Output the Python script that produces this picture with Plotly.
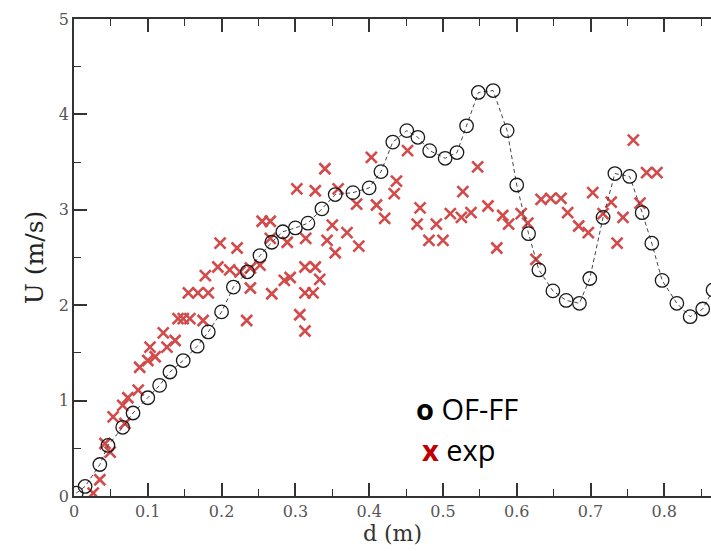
import plotly.graph_objects as go

# OF-FF simulation profile
of_d = [0.003, 0.015, 0.035, 0.046, 0.066, 0.080, 0.100, 0.116, 0.130, 0.148,
        0.167, 0.182, 0.200, 0.216, 0.235, 0.252, 0.268, 0.283, 0.300, 0.317,
        0.336, 0.354, 0.378, 0.400, 0.416, 0.432, 0.451, 0.466, 0.482, 0.503,
        0.519, 0.532, 0.548, 0.568, 0.587, 0.600, 0.616, 0.630, 0.649, 0.667,
        0.685, 0.699, 0.717, 0.733, 0.753, 0.770, 0.783, 0.797, 0.817, 0.835,
        0.852, 0.866]
of_u = [0.03, 0.10, 0.33, 0.53, 0.72, 0.87, 1.03, 1.16, 1.30, 1.42,
        1.57, 1.72, 1.93, 2.19, 2.35, 2.52, 2.66, 2.77, 2.81, 2.86,
        3.01, 3.16, 3.18, 3.23, 3.40, 3.71, 3.83, 3.76, 3.62, 3.54,
        3.60, 3.88, 4.23, 4.25, 3.83, 3.26, 2.75, 2.37, 2.15, 2.05,
        2.02, 2.28, 2.92, 3.38, 3.35, 2.97, 2.65, 2.26, 2.02, 1.88,
        1.96, 2.16]

# Experimental measurements
exp_d = [0.026, 0.035, 0.042, 0.049, 0.053, 0.066, 0.069, 0.073, 0.087, 0.089,
         0.100, 0.103, 0.110, 0.121, 0.126, 0.137, 0.141, 0.148, 0.157, 0.175,
         0.155, 0.168, 0.182, 0.178, 0.195, 0.211, 0.225, 0.239, 0.252, 0.198,
         0.221, 0.239, 0.234, 0.255, 0.266, 0.266, 0.289, 0.268, 0.285, 0.293,
         0.313, 0.327, 0.313, 0.324, 0.333, 0.306, 0.313, 0.302, 0.327, 0.340,
         0.358, 0.350, 0.314, 0.343, 0.354, 0.370, 0.386, 0.383, 0.403, 0.410,
         0.421, 0.437, 0.434, 0.452, 0.469, 0.465, 0.491, 0.481, 0.500, 0.510,
         0.527, 0.525, 0.538, 0.547, 0.561, 0.573, 0.581, 0.589, 0.606, 0.615,
         0.626, 0.633, 0.646, 0.660, 0.669, 0.684, 0.697, 0.703, 0.717, 0.728,
         0.736, 0.744, 0.758, 0.767, 0.776, 0.790]
exp_u = [0.03, 0.17, 0.55, 0.46, 0.83, 0.95, 0.76, 1.03, 1.11, 1.35,
         1.42, 1.56, 1.46, 1.71, 1.56, 1.63, 1.86, 1.86, 1.86, 1.84,
         2.13, 2.13, 2.13, 2.31, 2.40, 2.37, 2.35, 2.39, 2.42, 2.65,
         2.60, 2.18, 1.84, 2.88, 2.88, 2.70, 2.66, 2.12, 2.26, 2.29,
         2.40, 2.40, 2.13, 2.13, 2.27, 1.90, 1.73, 3.22, 3.20, 3.43,
         3.22, 2.84, 2.70, 2.68, 2.55, 2.76, 2.62, 3.06, 3.55, 3.05,
         2.91, 3.30, 3.17, 3.62, 3.02, 2.85, 2.85, 2.68, 2.68, 2.96,
         3.19, 2.92, 2.97, 3.45, 3.04, 2.60, 2.94, 2.85, 2.96, 2.86,
         2.48, 3.11, 3.12, 3.12, 2.97, 2.83, 2.76, 3.18, 2.96, 3.08,
         2.65, 2.92, 3.73, 3.07, 3.39, 3.39]

x_ticks = [0, 0.1, 0.2, 0.3, 0.4, 0.5, 0.6, 0.7, 0.8]
x_tick_text = ["0", "0.1", "0.2", "0.3", "0.4", "0.5", "0.6", "0.7", "0.8"]
y_ticks = [0, 1, 2, 3, 4, 5]

RED = "#cc2b2b"
AXIS = "#333333"
SERIF = "DejaVu Serif"

L, T, B = 74, 19, 55
W, H = 711, 551
pw, ph = W - L, H - T - B
x_range = [0, pw / 737.9]

fig = go.Figure()

fig.add_trace(go.Scatter(
    x=exp_d, y=exp_u, mode="markers", name="exp",
    marker=dict(symbol="x-thin-open", size=11, color=RED,
                line=dict(color=RED, width=2.6)),
    opacity=0.85,
))

fig.add_trace(go.Scatter(
    x=of_d, y=of_u, mode="lines+markers", name="OF-FF",
    line=dict(color="#444444", width=1, dash="4px,3px"),
    marker=dict(symbol="circle-open", size=13.5, color="#1a1a1a",
                line=dict(color="#1a1a1a", width=1.3)),
))


def px(xp):
    return (xp - L) / pw


def py(yp):
    return (H - B - yp) / ph


fig.add_annotation(x=px(414), y=py(408), xref="paper", yref="paper",
                   xanchor="left", yanchor="middle", showarrow=False,
                   text="<b>o</b> OF-FF",
                   font=dict(family="Open Sans", size=29, color="#000000"))
fig.add_annotation(x=px(420), y=py(449), xref="paper", yref="paper",
                   xanchor="left", yanchor="middle", showarrow=False,
                   text="<b><span style='color:#c00000'>x</span></b> exp",
                   font=dict(family="Open Sans", size=29, color="#000000"))

fig.update_layout(
    width=W, height=H,
    margin=dict(l=L, r=0, t=T, b=B, pad=0),
    paper_bgcolor="white", plot_bgcolor="white",
    showlegend=False,
    xaxis=dict(
        range=x_range, tickmode="array", tickvals=x_ticks,
        ticktext=x_tick_text, ticks="inside", ticklen=13, tickwidth=1.5,
        tickcolor=AXIS, showline=True, linecolor=AXIS, linewidth=1.8,
        mirror="allticks", showgrid=False, zeroline=False,
        minor=dict(dtick=0.05, ticks="inside", ticklen=7, tickwidth=1.3,
                   tickcolor=AXIS, showgrid=False),
        tickfont=dict(family=SERIF, size=16, color="#555555"),
        title=dict(text="d (m)", standoff=4,
                   font=dict(family=SERIF, size=22, color="#333333")),
    ),
    yaxis=dict(
        range=[0, 5], tickvals=y_ticks, ticks="inside", ticklen=13,
        tickwidth=1.5, tickcolor=AXIS, showline=True, linecolor=AXIS,
        linewidth=1.8, showgrid=False, zeroline=False,
        minor=dict(dtick=0.5, ticks="inside", ticklen=7, tickwidth=1.3,
                   tickcolor=AXIS, showgrid=False),
        tickfont=dict(family=SERIF, size=16, color="#555555"),
        title=dict(text="U (m/s)", standoff=8,
                   font=dict(family=SERIF, size=25, color="#222222")),
    ),
)

fig.write_html("out.html", config={"displayModeBar": False})
